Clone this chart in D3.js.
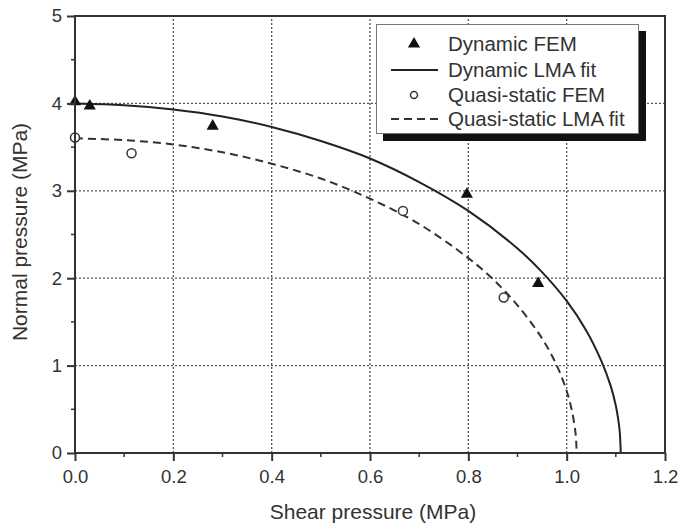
<!DOCTYPE html>
<html><head><meta charset="utf-8">
<script src="https://cdn.jsdelivr.net/npm/d3@7"></script>
<style>
html,body{margin:0;padding:0;background:#fff;}
svg text{font-family:"Liberation Sans",Arial,sans-serif;fill:#333;}
</style></head>
<body>
<svg id="chart" width="678" height="526"></svg>
<script>
// ---- data ----
const dynamicFEM = [[0,4.02],[0.03,3.97],[0.28,3.74],[0.797,2.96],[0.942,1.94]];
const quasiFEM = [[0,3.61],[0.115,3.43],[0.667,2.77],[0.872,1.78]];
const dynamicFit = [[0,4.00],[0.1,3.98],[0.2,3.93],[0.3,3.85],[0.4,3.73],[0.5,3.57],[0.6,3.37],[0.7,3.10],[0.8,2.77],[0.9,2.34],[0.95,2.07],[1.0,1.74],[1.04,1.40],[1.07,1.06],[1.09,0.76],[1.10,0.54],[1.105,0.38],[1.108,0.24],[1.11,0]];
const quasiFit = [[0,3.60],[0.1,3.58],[0.2,3.53],[0.3,3.44],[0.4,3.31],[0.5,3.14],[0.6,2.91],[0.7,2.62],[0.8,2.23],[0.85,1.99],[0.9,1.69],[0.95,1.31],[0.98,1.00],[1.0,0.71],[1.01,0.50],[1.018,0.23],[1.02,0.05]];
const xTicks = [0,0.2,0.4,0.6,0.8,1.0,1.2];
const yTicks = [0,1,2,3,4,5];
const legendLabels = ["Dynamic FEM","Dynamic LMA fit","Quasi-static FEM","Quasi-static LMA fit"];

// ---- layout ----
const L=75, R=665, T=16, B=453;
const svg = d3.select("#chart");
const x = d3.scaleLinear().domain([0,1.2]).range([L,R]);
const y = d3.scaleLinear().domain([0,5]).range([B,T]);
const ink="#222";

// grid
const g = svg.append("g");
g.selectAll(".gx").data(xTicks.filter(d=>d>0&&d<1.2)).enter().append("line")
 .attr("x1",d=>x(d)).attr("x2",d=>x(d)).attr("y1",B).attr("y2",T)
 .attr("stroke","#555").attr("stroke-width",1.3).attr("stroke-dasharray","2,2");
g.selectAll(".gy").data(yTicks.filter(d=>d>0&&d<5)).enter().append("line")
 .attr("y1",d=>y(d)).attr("y2",d=>y(d)).attr("x1",L).attr("x2",R)
 .attr("stroke","#555").attr("stroke-width",1.3).attr("stroke-dasharray","2,2");

// curves
const line = d3.line().x(d=>x(d[0])).y(d=>y(d[1])).curve(d3.curveCatmullRom.alpha(0.5));
svg.append("path").datum(dynamicFit).attr("d",line).attr("fill","none").attr("stroke",ink).attr("stroke-width",2);
svg.append("path").datum(quasiFit).attr("d",line).attr("fill","none").attr("stroke","#333").attr("stroke-width",2).attr("stroke-dasharray","8,5");

// markers
const tri = d3.symbol().type(d3.symbolTriangle).size(64);
svg.selectAll(".tri").data(dynamicFEM).enter().append("path")
 .attr("d",tri).attr("transform",d=>`translate(${x(d[0])},${y(d[1])})`).attr("fill","#111");
svg.selectAll(".circ").data(quasiFEM).enter().append("circle")
 .attr("cx",d=>x(d[0])).attr("cy",d=>y(d[1])).attr("r",4.5)
 .attr("fill","#fff").attr("stroke","#333").attr("stroke-width",1.5);

// axes
const xAxis = d3.axisBottom(x).tickValues(xTicks).tickFormat(d3.format(".1f")).tickSize(8).tickSizeOuter(0);
const gx = svg.append("g").attr("transform",`translate(0,${B})`).call(xAxis);
const yAxis = d3.axisLeft(y).tickValues(yTicks).tickFormat(d3.format("d")).tickSize(8).tickSizeOuter(0);
const gy = svg.append("g").attr("transform",`translate(${L},0)`).call(yAxis);
[gx,gy].forEach(a=>{
  a.select(".domain").remove();
  a.selectAll(".tick line").attr("stroke","#333").attr("stroke-width",2);
  a.selectAll(".tick text").attr("font-size",18.5).attr("fill","#444");
});
gx.selectAll(".tick text").attr("dy","1.0em");
gy.selectAll(".tick text").attr("dx","-0.1em");
// minor ticks
const xMinor = d3.range(1,12,2).map(i=>i/10);
svg.selectAll(".mx").data(xMinor).enter().append("line")
 .attr("x1",d=>x(d)).attr("x2",d=>x(d)).attr("y1",B).attr("y2",B+4).attr("stroke","#333").attr("stroke-width",1.5);
const yMinor = [0.5,1.5,2.5,3.5,4.5];
svg.selectAll(".my").data(yMinor).enter().append("line")
 .attr("y1",d=>y(d)).attr("y2",d=>y(d)).attr("x1",L).attr("x2",L-4).attr("stroke","#333").attr("stroke-width",1.5);

// frame
svg.append("rect").attr("x",L).attr("y",T).attr("width",R-L).attr("height",B-T)
 .attr("fill","none").attr("stroke","#333").attr("stroke-width",2);

// axis titles
svg.append("text").attr("x",373).attr("y",519).attr("text-anchor","middle").attr("font-size",21).attr("fill","#444").text("Shear pressure (MPa)");
svg.append("text").attr("transform",`translate(27,232) rotate(-90)`).attr("text-anchor","middle").attr("font-size",21).attr("fill","#444").text("Normal pressure (MPa)");

// legend
const lg = svg.append("g");
lg.append("rect").attr("x",383).attr("y",31).attr("width",263).attr("height",110).attr("fill","#111");
lg.append("rect").attr("x",376.5).attr("y",24.5).attr("width",262).attr("height",109).attr("fill","#fff").attr("stroke","#777").attr("stroke-width",1);
const rowY = [44,70,95,119];
legendLabels.forEach((t,i)=>{
  lg.append("text").attr("x",448).attr("y",rowY[i]).attr("dy","0.36em").attr("font-size",20.5).attr("fill","#444").text(t);
});
lg.append("path").attr("d",tri).attr("transform",`translate(414,${rowY[0]})`).attr("fill","#111");
lg.append("line").attr("x1",391).attr("x2",438).attr("y1",rowY[1]).attr("y2",rowY[1]).attr("stroke",ink).attr("stroke-width",2);
lg.append("circle").attr("cx",414).attr("cy",rowY[2]).attr("r",3.5).attr("fill","#fff").attr("stroke","#333").attr("stroke-width",1.5);
lg.append("line").attr("x1",391).attr("x2",440).attr("y1",rowY[3]).attr("y2",rowY[3]).attr("stroke","#333").attr("stroke-width",2).attr("stroke-dasharray","8,5");
</script>
</body></html>
